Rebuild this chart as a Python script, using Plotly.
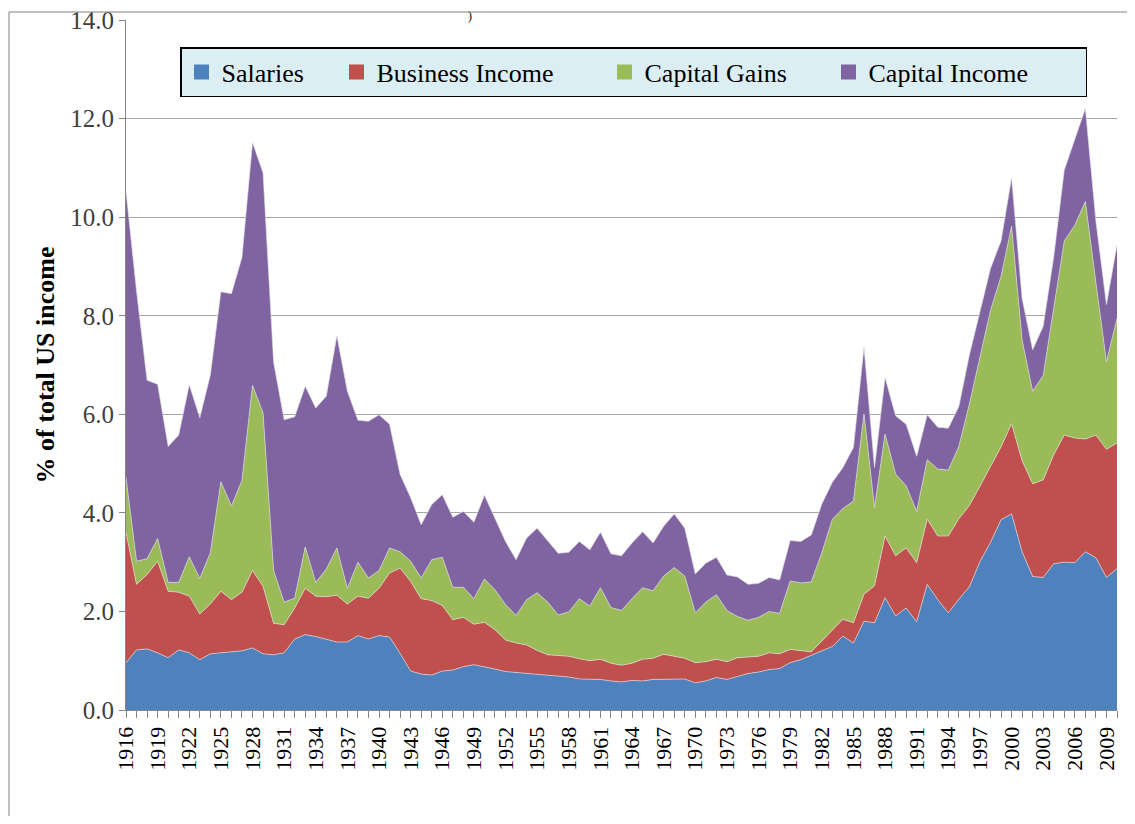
import plotly.graph_objects as go

years = list(range(1916, 2011))

salaries = [0.96, 1.22, 1.24, 1.16, 1.06, 1.22, 1.16, 1.02, 1.14, 1.16,
            1.17, 1.20, 1.26, 1.14, 1.12, 1.16, 1.44, 1.53, 1.49, 1.43,
            1.38, 1.38, 1.51, 1.44, 1.51, 1.48, 1.15, 0.79, 0.73, 0.71,
            0.79, 0.81, 0.88, 0.92, 0.88, 0.83, 0.78, 0.76, 0.75, 0.73,
            0.70, 0.68, 0.67, 0.63, 0.63, 0.62, 0.59, 0.57, 0.60, 0.59,
            0.62, 0.62, 0.63, 0.63, 0.55, 0.59, 0.66, 0.62, 0.68, 0.74,
            0.77, 0.82, 0.84, 0.96, 1.02, 1.11, 1.19, 1.29, 1.50, 1.36,
            1.80, 1.77, 2.28, 1.91, 2.07, 1.79, 2.55, 2.24, 1.97, 2.25,
            2.50, 3.01, 3.40, 3.86, 3.98, 3.21, 2.71, 2.69, 2.97, 3.00,
            2.99, 3.21, 3.09, 2.69, 2.87]

business_income = [2.64, 1.33, 1.51, 1.86, 1.35, 1.17, 1.15, 0.93, 1.01, 1.25,
                   1.07, 1.19, 1.57, 1.37, 0.64, 0.57, 0.63, 0.94, 0.82, 0.87,
                   0.95, 0.77, 0.80, 0.83, 0.96, 1.30, 1.73, 1.82, 1.53, 1.51,
                   1.33, 1.02, 1.00, 0.82, 0.90, 0.80, 0.64, 0.60, 0.57, 0.48,
                   0.42, 0.43, 0.42, 0.41, 0.37, 0.41, 0.36, 0.34, 0.35, 0.44,
                   0.43, 0.51, 0.46, 0.42, 0.41, 0.39, 0.37, 0.36, 0.38, 0.34,
                   0.32, 0.34, 0.30, 0.27, 0.19, 0.07, 0.21, 0.34, 0.34, 0.41,
                   0.55, 0.75, 1.25, 1.22, 1.22, 1.20, 1.32, 1.29, 1.56, 1.63,
                   1.65, 1.53, 1.54, 1.48, 1.83, 1.85, 1.88, 1.98, 2.21, 2.58,
                   2.53, 2.29, 2.49, 2.60, 2.55]

capital_gains = [1.12, 0.47, 0.32, 0.46, 0.18, 0.20, 0.80, 0.72, 1.04, 2.22,
                 1.90, 2.27, 3.76, 3.52, 1.07, 0.46, 0.20, 0.84, 0.28, 0.56,
                 0.96, 0.32, 0.69, 0.41, 0.36, 0.51, 0.33, 0.41, 0.42, 0.83,
                 0.98, 0.66, 0.61, 0.52, 0.88, 0.81, 0.72, 0.56, 0.92, 1.17,
                 1.07, 0.82, 0.90, 1.22, 1.11, 1.45, 1.13, 1.11, 1.31, 1.45,
                 1.37, 1.59, 1.80, 1.67, 1.01, 1.21, 1.31, 1.04, 0.84, 0.74,
                 0.79, 0.84, 0.82, 1.39, 1.37, 1.42, 1.79, 2.24, 2.25, 2.47,
                 3.66, 1.59, 2.07, 1.66, 1.26, 1.04, 1.21, 1.36, 1.34, 1.47,
                 2.06, 2.65, 3.17, 3.46, 4.01, 2.45, 1.88, 2.12, 2.93, 3.94,
                 4.32, 4.82, 3.09, 1.78, 2.53]

capital_income = [5.81, 5.48, 3.62, 3.13, 2.76, 2.99, 3.49, 3.26, 3.61, 3.86,
                  4.31, 4.53, 4.93, 4.87, 4.23, 3.70, 3.68, 3.26, 3.54, 3.51,
                  4.31, 4.00, 2.88, 3.18, 3.16, 2.51, 1.57, 1.29, 1.08, 1.12,
                  1.27, 1.42, 1.54, 1.55, 1.70, 1.46, 1.28, 1.13, 1.25, 1.31,
                  1.24, 1.25, 1.21, 1.16, 1.14, 1.13, 1.09, 1.11, 1.13, 1.14,
                  0.97, 1.01, 1.09, 0.97, 0.79, 0.79, 0.76, 0.72, 0.80, 0.73,
                  0.69, 0.69, 0.68, 0.82, 0.84, 0.95, 0.99, 0.75, 0.83, 1.09,
                  1.35, 0.81, 1.15, 1.18, 1.25, 1.12, 0.91, 0.85, 0.85, 0.81,
                  1.00, 0.92, 0.85, 0.72, 0.98, 0.84, 0.84, 1.00, 1.09, 1.44,
                  1.73, 1.89, 1.25, 1.16, 1.49]

series_names = ["Salaries", "Business Income", "Capital Gains", "Capital Income"]
series_colors = ["#4f81bd", "#c0504d", "#9bbb59", "#8064a2"]
legend_widths = [110, 223, 179, 212]
tick_years = list(range(1916, 2010, 3))
tick_labels = [str(y) for y in tick_years]
y_ticks = [0, 2, 4, 6, 8, 10, 12, 14]

SERIF = "Liberation Serif, Times New Roman, serif"

fig = go.Figure()
for name, vals, col in zip(series_names,
                           [salaries, business_income, capital_gains, capital_income],
                           series_colors):
    fig.add_trace(go.Scatter(
        x=years, y=vals, name=name, stackgroup="one", mode="lines",
        line=dict(width=0.7, color="rgba(225,225,225,0.9)"),
        fillcolor=col, showlegend=False, hoverinfo="x+y+name"))

for name, col, lw in zip(series_names, series_colors, legend_widths):
    fig.add_trace(go.Scatter(
        x=[None], y=[None], mode="markers", name=name, legendwidth=lw,
        marker=dict(symbol="square", size=15, color=col)))

# the page body has an 8px margin, so the figure is drawn 8px right/down
OFF = 8
W, H = 1135 - 16, 824 - 16
L, R, T = 126 - OFF, 10, 20 - OFF
B = H - (710 - OFF)
pw, ph = W - L - R, H - T - B

def px2x(px):
    return (px - OFF - L) / pw

def py2y(py):
    return (H - B - (py - OFF)) / ph

fig.update_layout(
    width=W, height=H,
    margin=dict(l=L, r=R, t=T, b=B, autoexpand=False),
    plot_bgcolor="white", paper_bgcolor="white",
    font=dict(family=SERIF, color="#000000"),
    legend=dict(
        orientation="h", x=px2x(180), y=py2y(47), xanchor="left", yanchor="top",
        bgcolor="#dbeef3", bordercolor="#000000", borderwidth=1.5,
        font=dict(family=SERIF, size=26, color="#000000"),
        traceorder="normal", itemwidth=30),
    xaxis=dict(
        range=[1916, 2010], tickmode="array", tickvals=tick_years, ticktext=tick_labels,
        tickangle=-90, ticks="outside", ticklen=7, tickcolor="#868686",
        tickfont=dict(family=SERIF, size=22, color="#000000"),
        ticklabeloverflow="allow", automargin=False,
        minor=dict(dtick=1, tick0=1916, ticks="outside", ticklen=7, tickcolor="#868686", showgrid=False),
        showgrid=False, showline=True, linecolor="#868686", linewidth=1, zeroline=False),
    yaxis=dict(
        range=[0, 14.004], tickmode="array", tickvals=y_ticks,
        ticktext=["%.1f" % v for v in y_ticks],
        ticks="outside", ticklen=6, tickcolor="#868686",
        tickfont=dict(family=SERIF, size=25, color="#404040"),
        ticklabeloverflow="allow", automargin=False,
        showgrid=True, gridcolor="#a6a6a6", gridwidth=1,
        showline=True, linecolor="#868686", linewidth=1, zeroline=False,
        title=dict(text="<b>% of total US income</b>", standoff=8,
                   font=dict(family=SERIF, size=26, color="#000000"))),
    shapes=[
        dict(type="line", xref="paper", yref="paper",
             x0=px2x(9), x1=px2x(1135), y0=py2y(12), y1=py2y(12),
             line=dict(color="#808080", width=1)),
        dict(type="line", xref="paper", yref="paper",
             x0=px2x(9), x1=px2x(9), y0=py2y(12), y1=py2y(824),
             line=dict(color="#808080", width=1)),
    ],
    annotations=[
        dict(text=")", xref="paper", yref="paper", x=px2x(470), y=py2y(16),
             showarrow=False, font=dict(family=SERIF, size=12, color="#000000"),
             xanchor="center", yanchor="middle"),
    ],
)

fig.write_html("out.html")
